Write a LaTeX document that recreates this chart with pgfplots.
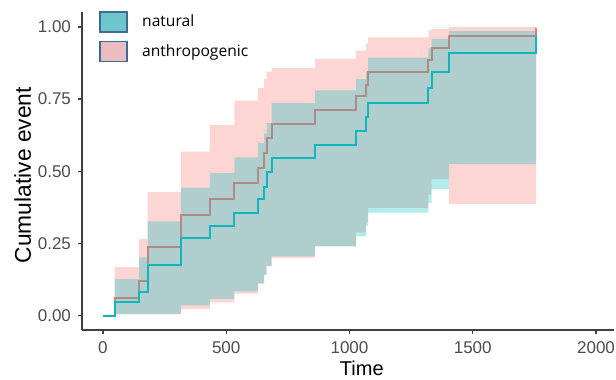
\documentclass[border=0pt]{standalone}
\usepackage{fontspec}
\setmainfont{Liberation Sans}
\newfontfamily\legfont{Open Sans}
\usepackage{pgfplots}
\usepackage{pgfplotstable}
\pgfplotsset{compat=1.18}
\usepgfplotslibrary{fillbetween}

\definecolor{anthro}{HTML}{F8766D}
\definecolor{nat}{HTML}{00BFC4}
\definecolor{natline}{HTML}{10B6BB}
\definecolor{natleg}{HTML}{6EC6CA}
\definecolor{antleg}{HTML}{EBBDC0}
\definecolor{legborder}{HTML}{3E6A97}

\pgfplotstableread{
t est lo up
0 0 0 0
47 0.046 0.005 0.127
147 0.082 0.005 0.202
181 0.176 0.005 0.326
316 0.269 0.035 0.443
434 0.311 0.058 0.494
533 0.355 0.084 0.548
628 0.404 0.113 0.598
654 0.447 0.142 0.630
664 0.497 0.173 0.667
684 0.545 0.205 0.736
860 0.590 0.240 0.780
1026 0.641 0.274 0.819
1067 0.687 0.311 0.845
1076 0.736 0.357 0.894
1320 0.788 0.390 0.926
1333 0.845 0.438 0.958
1404 0.909 0.525 0.986
1757 0.967 0.525 0.986
}\naturaltab

\pgfplotstableread{
t est lo up
0 0 0 0
47 0.060 0.005 0.168
147 0.119 0.005 0.266
181 0.236 0.005 0.428
316 0.349 0.023 0.568
434 0.403 0.046 0.660
533 0.459 0.076 0.745
628 0.511 0.110 0.788
654 0.563 0.140 0.820
664 0.615 0.170 0.845
684 0.665 0.200 0.857
860 0.713 0.240 0.889
1026 0.759 0.288 0.918
1067 0.800 0.323 0.943
1076 0.845 0.373 0.964
1320 0.886 0.420 0.990
1333 0.926 0.473 0.993
1404 0.967 0.387 1.000
1757 0.995 0.387 1.000
}\anthrotab

\begin{document}
\begin{tikzpicture}
\begin{axis}[
  scale only axis,
  width=266pt, height=158.75pt,
  xmin=-85, xmax=2073,
  ymin=-0.05, ymax=1.05,
  axis x line*=bottom, axis y line*=left,
  axis line style={black!75, line width=0.6pt, -},
  xtick={0,500,1000,1500,2000},
  ytick={0,0.25,0.5,0.75,1},
  tick align=outside,
  major tick length=2pt,
  tick style={black!75, line width=0.6pt},
  /pgf/number format/assume math mode=true,
  /pgf/number format/1000 sep={},
  yticklabel style={/pgf/number format/fixed, /pgf/number format/fixed zerofill, /pgf/number format/precision=2},
  ticklabel style={font=\fontsize{8.5}{10}\selectfont, text=black!70},
  xticklabel style={yshift=-0.5pt},
  xlabel={Time}, ylabel={Cumulative event},
  xlabel style={at={(ticklabel cs:0.526)}, anchor=north, yshift=3.5pt, font=\fontsize{10}{12}\selectfont},
  ylabel style={yshift=-3.5pt, xshift=-2pt, font=\fontsize{11.4}{13}\selectfont},
  legend style={at={(rel axis cs:0,1)}, anchor=north west, xshift=8.5pt, yshift=1pt,
    draw=none, fill=none, font=\legfont\fontsize{7.8}{9}\selectfont,
    row sep=3.2pt, inner sep=0pt},
  legend cell align=left,
  /tikz/every odd column/.append style={column sep=5pt},
]
% anthropogenic ribbon
\addplot[const plot, draw=none, name path=aup, forget plot] table[x=t, y=up] {\anthrotab};
\addplot[const plot, draw=none, name path=alo, forget plot] table[x=t, y=lo] {\anthrotab};
\addplot[fill=anthro, fill opacity=0.3, draw=none, forget plot] fill between[of=aup and alo];
\addplot[const plot, color=anthro, line width=1pt, forget plot, on layer=pre main] table[x=t, y=est] {\anthrotab};
% natural ribbon
\addplot[const plot, draw=none, name path=nup, forget plot] table[x=t, y=up] {\naturaltab};
\addplot[const plot, draw=none, name path=nlo, forget plot] table[x=t, y=lo] {\naturaltab};
\addplot[fill=nat, fill opacity=0.3, draw=none, forget plot] fill between[of=nup and nlo];
\addplot[const plot, color=natline, line width=1pt, forget plot] table[x=t, y=est] {\naturaltab};

\addlegendimage{legend image code/.code={\draw[fill=natleg, draw=legborder, line width=0.9pt] (0pt,-5pt) rectangle (13.5pt,5pt);}}
\addlegendentry{natural}
\addlegendimage{legend image code/.code={\draw[fill=antleg, draw=legborder, line width=0.9pt] (0pt,-5pt) rectangle (13.5pt,5pt);}}
\addlegendentry{anthropogenic}
\end{axis}
\pgfresetboundingbox
\useasboundingbox (-41pt,-25pt) rectangle (267pt,165pt);
\end{tikzpicture}
\end{document}
